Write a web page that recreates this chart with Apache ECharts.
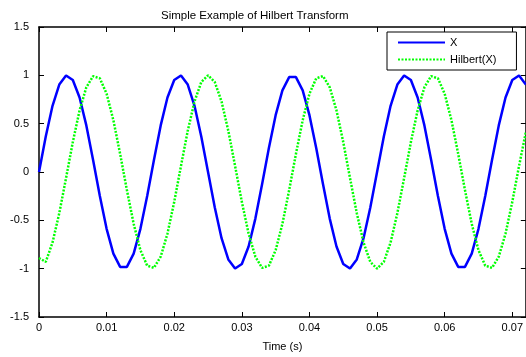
<!DOCTYPE html>
<html>
<head>
<meta charset="utf-8">
<script src="https://cdn.jsdelivr.net/npm/echarts@6/dist/echarts.min.js"></script>
<style>
  html, body { margin: 0; padding: 0; background: #fff; }
  #chart { width: 526px; height: 357px; }
</style>
</head>
<body>
<div id="chart"></div>
<script>
// time samples, 1 ms apart
const timeStep = 0.001;
const xValues = [
  0, 0.368, 0.685, 0.905, 0.998, 0.951, 0.771, 0.482, 0.125, -0.249,
  -0.588, -0.844, -0.982, -0.982, -0.844, -0.588, -0.249, 0.125, 0.482, 0.771,
  0.951, 0.998, 0.905, 0.685, 0.368, 0, -0.368, -0.685, -0.905, -0.998,
  -0.951, -0.771, -0.482, -0.125, 0.249, 0.588, 0.844, 0.982, 0.982, 0.844,
  0.588, 0.249, -0.125, -0.482, -0.771, -0.951, -0.998, -0.905, -0.685, -0.368,
  0, 0.368, 0.685, 0.905, 0.998, 0.951, 0.771, 0.482, 0.125, -0.249,
  -0.588, -0.844, -0.982, -0.982, -0.844, -0.588, -0.249, 0.125, 0.482, 0.771,
  0.951, 0.998, 0.905
];
const hilbertValues = [
  -0.89, -0.93, -0.729, -0.426, -0.063, 0.309, 0.637, 0.876, 0.992, 0.969,
  0.809, 0.536, 0.187, -0.187, -0.536, -0.809, -0.969, -0.992, -0.876, -0.637,
  -0.309, 0.063, 0.426, 0.729, 0.93, 1, 0.93, 0.729, 0.426, 0.063,
  -0.309, -0.637, -0.876, -0.992, -0.969, -0.809, -0.536, -0.187, 0.187, 0.536,
  0.809, 0.969, 0.992, 0.876, 0.637, 0.309, -0.063, -0.426, -0.729, -0.93,
  -1, -0.93, -0.729, -0.426, -0.063, 0.309, 0.637, 0.876, 0.992, 0.969,
  0.809, 0.536, 0.187, -0.187, -0.536, -0.809, -0.969, -0.992, -0.876, -0.637,
  -0.309, 0.063, 0.41
];
const seriesNames = ['X', 'Hilbert(X)'];

const toPairs = vals => vals.map((v, i) => [+(i * timeStep).toFixed(3), v]);

const font = 'Liberation Sans, Arial, sans-serif';
const axisLine = {show: true, onZero: false, lineStyle: {color: '#000', width: 1.5}};
const tick = {show: true, inside: true, length: 5, lineStyle: {color: '#000', width: 1}};

const chart = echarts.init(document.getElementById('chart'));
chart.setOption({
  animation: false,
  backgroundColor: '#fff',
  title: {
    text: 'Simple Example of Hilbert Transform',
    left: 156,
    top: 5,
    textStyle: {fontFamily: font, fontSize: 11.5, fontWeight: 'normal', color: '#000'}
  },
  grid: {left: 39, top: 27, right: -2, bottom: 32},
  legend: {
    orient: 'vertical',
    left: 387,
    top: 32,
    padding: [5, 20, 5, 10],
    itemGap: 6,
    itemWidth: 47,
    itemHeight: 12,
    backgroundColor: '#fff',
    borderColor: '#000',
    borderWidth: 1,
    borderRadius: 0,
    itemStyle: {opacity: 0},
    textStyle: {fontFamily: font, fontSize: 11, color: '#000'},
    data: seriesNames
  },
  xAxis: [{
    type: 'value',
    min: 0,
    max: 0.072,
    interval: 0.01,
    name: 'Time (s)',
    nameLocation: 'middle',
    nameGap: 24,
    nameTextStyle: {fontFamily: font, fontSize: 11, color: '#000'},
    axisLine: axisLine,
    axisTick: tick,
    axisLabel: {fontFamily: font, fontSize: 11, color: '#000', margin: 5, showMaxLabel: false},
    splitLine: {show: false}
  }, {
    type: 'value',
    position: 'top',
    min: 0,
    max: 0.072,
    interval: 0.01,
    axisLine: axisLine,
    axisTick: tick,
    axisLabel: {show: false},
    splitLine: {show: false}
  }],
  yAxis: [{
    type: 'value',
    min: -1.5,
    max: 1.5,
    interval: 0.5,
    axisLine: axisLine,
    axisTick: tick,
    axisLabel: {fontFamily: font, fontSize: 11, color: '#000', margin: 10},
    splitLine: {show: false}
  }, {
    type: 'value',
    position: 'right',
    min: -1.5,
    max: 1.5,
    interval: 0.5,
    axisLine: axisLine,
    axisTick: tick,
    axisLabel: {show: false},
    splitLine: {show: false}
  }],
  series: [{
    name: seriesNames[0],
    type: 'line',
    data: toPairs(xValues),
    showSymbol: false,
    symbol: 'none',
    color: '#0000ff',
    lineStyle: {color: '#0000ff', width: 2.5}
  }, {
    name: seriesNames[1],
    type: 'line',
    data: toPairs(hilbertValues),
    showSymbol: false,
    symbol: 'none',
    color: '#00ff00',
    lineStyle: {color: '#00ff00', width: 2.5, type: [2, 1.5]}
  }]
});
</script>
</body>
</html>
